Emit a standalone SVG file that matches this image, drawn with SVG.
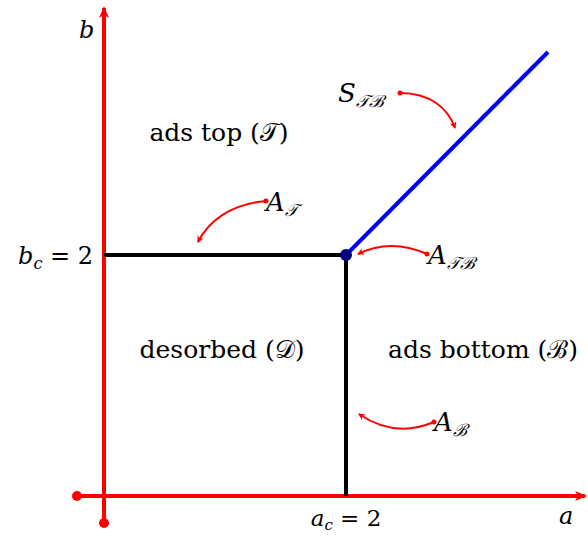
<svg xmlns="http://www.w3.org/2000/svg" width="588" height="536" viewBox="0 0 588 536">
<defs>
<marker id="axh" markerWidth="12" markerHeight="10" refX="10" refY="5" orient="auto" markerUnits="userSpaceOnUse">
<path d="M0,0 L12,5 L0,10 L3,5 Z" fill="#ff0000"/>
</marker>
<marker id="ah" markerWidth="8" markerHeight="8" refX="6" refY="4" orient="auto" markerUnits="userSpaceOnUse">
<path d="M0,0.5 L7,4 L0,7.5 L2,4 Z" fill="#ff0000"/>
</marker>
</defs>
<style>
text{font-family:'DejaVu Serif','Liberation Serif',serif}
.t{font-size:25px;fill:#000}
.m{font-style:italic;fill:#000}
.ax{stroke:#ff0000;stroke-width:4;fill:none}
.bl{stroke:#000;stroke-width:4;fill:none}
.cv{stroke:#ff0000;stroke-width:2;fill:none}
</style>
<rect width="588" height="536" fill="#fff"/>
<g id="axes">
<line class="ax" x1="104" y1="523" x2="104" y2="8" marker-end="url(#axh)"/>
<line class="ax" x1="77" y1="496" x2="585" y2="496" marker-end="url(#axh)"/>
<circle cx="104" cy="523" r="5" fill="#ff0000"/>
<circle cx="77" cy="496" r="5" fill="#ff0000"/>
</g>
<g id="boundaries">
<line class="bl" x1="104" y1="255" x2="346" y2="255"/>
<line class="bl" x1="346" y1="255" x2="346" y2="496"/>
<line x1="346" y1="255" x2="548" y2="52" stroke="#0000ff" stroke-width="4"/>
<circle cx="346" cy="255" r="6" fill="#000080"/>
</g>
<g id="connectors">
<path class="cv" d="M400,93 C430,93 448,108 455,128" marker-end="url(#ah)"/>
<path class="cv" d="M266,201 C230,204 208,222 198,242" marker-end="url(#ah)"/>
<path class="cv" d="M427,254 C400,242 378,244 358,254" marker-end="url(#ah)"/>
<path class="cv" d="M434,422 C410,432 385,432 359,414" marker-end="url(#ah)"/>
<circle cx="400" cy="93" r="2.5" fill="#ff0000"/>
<circle cx="266" cy="201" r="2.5" fill="#ff0000"/>
<circle cx="427" cy="254" r="2.5" fill="#ff0000"/>
<circle cx="434" cy="422" r="2.5" fill="#ff0000"/>
</g>
<g id="labels">
<text class="m" x="79" y="38" font-size="24">b</text>
<text class="m" x="559" y="524" font-size="24">a</text>
<text x="93" y="264" text-anchor="end" font-size="24"><tspan font-style="italic">b</tspan><tspan font-style="italic" font-size="16" dy="5">c</tspan><tspan dy="-5"> = 2</tspan></text>
<text x="346" y="526" text-anchor="middle" font-size="23"><tspan font-style="italic">a</tspan><tspan font-style="italic" font-size="15" dy="4">c</tspan><tspan dy="-4"> = 2</tspan></text>
<text class="t" x="219" y="141" text-anchor="middle">ads top (𝒯)</text>
<text class="t" x="222" y="358" text-anchor="middle">desorbed (𝒟)</text>
<text class="t" x="388" y="358">ads bottom (ℬ)</text>
<text class="m" x="338" y="102" font-size="26">S<tspan font-size="17" dy="5">𝒯ℬ</tspan></text>
<text class="m" x="266" y="211" font-size="26">A<tspan font-size="17" dy="5">𝒯</tspan></text>
<text class="m" x="428" y="264" font-size="26">A<tspan font-size="17" dy="5">𝒯ℬ</tspan></text>
<text class="m" x="434" y="431" font-size="26">A<tspan font-size="17" dy="5">ℬ</tspan></text>
</g>
</svg>
